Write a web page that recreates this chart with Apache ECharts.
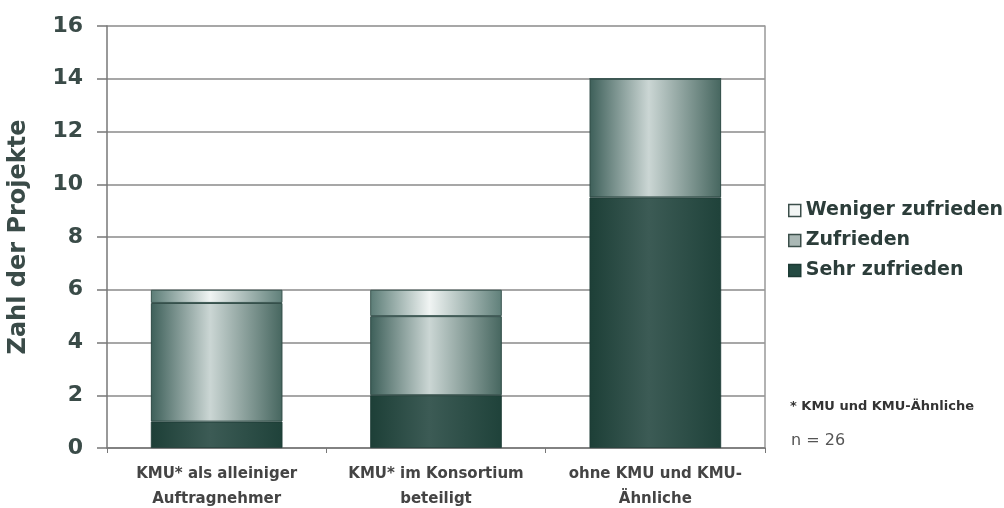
<!DOCTYPE html>
<html>
<head>
<meta charset="utf-8">
<script src="https://cdn.jsdelivr.net/npm/echarts@6/dist/echarts.min.js"></script>
<style>html,body{margin:0;padding:0;background:#fff}#c{width:1004px;height:508px}</style>
</head>
<body>
<div id="c"></div>
<script>
const categories = ['KMU* als alleiniger\nAuftragnehmer', 'KMU* im Konsortium\nbeteiligt', 'ohne KMU und KMU-\nÄhnliche'];
const sehrZufrieden = [1, 2, 9.5];
const zufrieden = [4.5, 3, 4.5];
const wenigerZufrieden = [0.5, 1, 0];
const yTicks = [0, 2, 4, 6, 8, 10, 12, 14, 16];

const chart = echarts.init(document.getElementById('c'));
const grad = (edge, mid, edge2) => new echarts.graphic.LinearGradient(0, 0, 1, 0, [
  {offset: 0, color: edge}, {offset: 0.45, color: mid}, {offset: 1, color: edge2}
]);
const font = 'DejaVu Sans, Liberation Sans, Arial, sans-serif';
const barGap = '40%';
chart.setOption({
  animation: false,
  grid: {left: 107, right: 239, top: 26, bottom: 60, containLabel: false, outerBoundsMode: 'none'},
  legend: {
    orient: 'vertical', left: 783, top: 196, itemGap: 11,
    itemWidth: 12, itemHeight: 12, icon: 'rect',
    textStyle: {fontFamily: font, fontSize: 19, fontWeight: 'bold', color: '#2c3d3a'},
    data: [
      {name: 'Weniger zufrieden', itemStyle: {color: '#f2f5f4', borderColor: '#3b4e4a', borderWidth: 1.5}},
      {name: 'Zufrieden', itemStyle: {color: '#aab8b5', borderColor: '#3b4e4a', borderWidth: 1.5}},
      {name: 'Sehr zufrieden', itemStyle: {color: '#244a42', borderColor: '#1c3a34', borderWidth: 1.5}}
    ]
  },
  xAxis: {
    type: 'category', data: categories,
    axisLine: {lineStyle: {color: '#777', width: 1.5}},
    axisTick: {show: true, length: 5, lineStyle: {color: '#777'}},
    axisLabel: {fontFamily: font, fontSize: 15, fontWeight: 'bold', color: '#444', lineHeight: 25, margin: 14, interval: 0}
  },
  yAxis: [{
    type: 'value', min: 0, max: 16, interval: 2,
    name: 'Zahl der Projekte', nameLocation: 'middle', nameGap: 76, nameRotate: 90,
    nameTextStyle: {fontFamily: font, fontSize: 24, fontWeight: 'bold', color: '#3a4b48'},
    axisLine: {show: true, lineStyle: {color: '#777', width: 1.5}},
    axisTick: {show: true, length: 10, lineStyle: {color: '#777', width: 1.5}},
    splitLine: {lineStyle: {color: '#8a8a8a', width: 1.5}},
    axisLabel: {fontFamily: font, fontSize: 22, fontWeight: 'bold', color: '#3a4b48', margin: 24,
      formatter: v => yTicks.includes(v) ? String(v) : ''}
  }, {
    type: 'value', min: 0, max: 16, interval: 2, position: 'right',
    axisLine: {show: true, lineStyle: {color: '#999', width: 1.5}},
    axisTick: {show: false}, axisLabel: {show: false}, splitLine: {show: false}
  }],
  series: [
    {name: 'Sehr zufrieden', type: 'bar', stack: 's', data: sehrZufrieden, barCategoryGap: barGap,
      itemStyle: {color: grad('#1d3f37', '#3c5b55', '#1f423a'), borderColor: '#1c3a33', borderWidth: 0.8}},
    {name: 'Zufrieden', type: 'bar', stack: 's', data: zufrieden, barCategoryGap: barGap,
      itemStyle: {color: grad('#3d5f59', '#cbd6d4', '#46665f'), borderColor: '#2e4a45', borderWidth: 1}},
    {name: 'Weniger zufrieden', type: 'bar', stack: 's', data: wenigerZufrieden, barCategoryGap: barGap,
      itemStyle: {color: grad('#5b7c76', '#f0f4f3', '#5f7f79'), borderColor: '#3a5550', borderWidth: 1}}
  ],
  graphic: [
    {type: 'text', left: 790, top: 400, style: {text: '* KMU und KMU-Ähnliche', font: 'bold 13px DejaVu Sans, Arial, sans-serif', fill: '#333'}},
    {type: 'text', left: 791, top: 433, style: {text: 'n = 26', font: '16px DejaVu Sans, Arial, sans-serif', fill: '#555'}}
  ]
});
</script>
</body>
</html>
